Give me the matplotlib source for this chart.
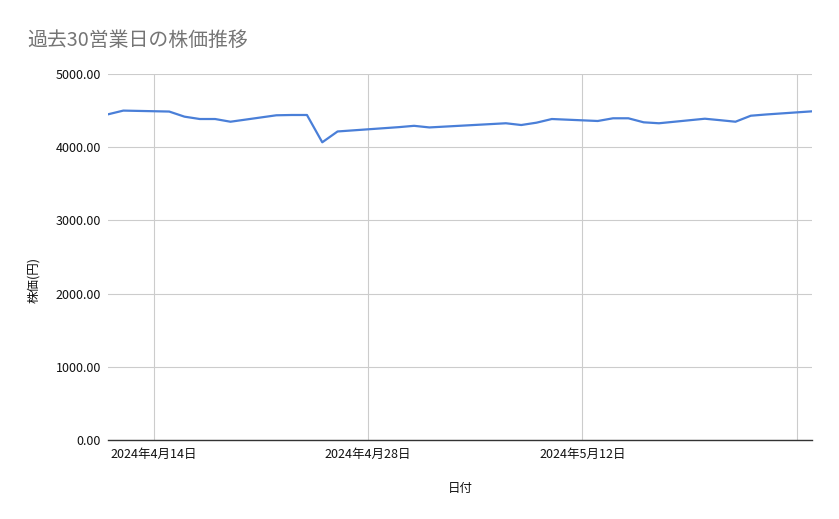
import numpy as np
import pandas as pd
import matplotlib
matplotlib.use("Agg")
import matplotlib.pyplot as plt

plt.rcParams['font.family'] = ['Noto Sans CJK JP', 'DejaVu Sans']

# 過去30営業日 (祝日は除く)
dates = pd.to_datetime([
    "2024-04-11", "2024-04-12", "2024-04-15", "2024-04-16", "2024-04-17",
    "2024-04-18", "2024-04-19", "2024-04-22", "2024-04-23", "2024-04-24",
    "2024-04-25", "2024-04-26", "2024-04-30", "2024-05-01", "2024-05-02",
    "2024-05-07", "2024-05-08", "2024-05-09", "2024-05-10", "2024-05-13",
    "2024-05-14", "2024-05-15", "2024-05-16", "2024-05-17", "2024-05-20",
    "2024-05-21", "2024-05-22", "2024-05-23", "2024-05-24", "2024-05-27",
])
prices = [
    4449, 4500, 4487, 4417, 4385,
    4385, 4348, 4436, 4440, 4440,
    4067, 4215, 4274, 4292, 4270,
    4327, 4303, 4335, 4385, 4358,
    4395, 4395, 4340, 4327, 4389,
    4369, 4348, 4430, 4447, 4490,
]

tick_dates = pd.to_datetime(["2024-04-14", "2024-04-28", "2024-05-12", "2024-05-26"])
tick_labels = ["2024年4月14日", "2024年4月28日", "2024年5月12日", ""]
y_ticks = [0, 1000, 2000, 3000, 4000, 5000]

fig = plt.figure(figsize=(8.39, 5.19), dpi=100)
ax = fig.add_axes([108/839, 1 - 440/519, (812 - 108)/839, (440 - 74)/519])

ax.plot(dates, prices, color='#4a7fd8', lw=1.6, solid_joinstyle='round')

ax.set_xlim(dates[0], dates[-1])
ax.set_ylim(0, 5000)
ax.set_xticks(tick_dates)
ax.set_xticklabels(tick_labels)
ax.set_yticks(y_ticks)
ax.set_yticklabels([f"{v:.2f}" for v in y_ticks])

ax.grid(True, color='#cccccc', lw=0.8)
ax.set_axisbelow(True)
for s in ['top', 'right', 'left']:
    ax.spines[s].set_visible(False)
ax.spines['bottom'].set_color('#333333')
ax.spines['bottom'].set_linewidth(1.0)
ax.tick_params(axis='both', length=0, labelsize=9, colors='#111111')
ax.tick_params(axis='x', pad=6)
ax.tick_params(axis='y', pad=5)

ax.set_xlabel("日付", fontsize=9, color='#111111', labelpad=15)
ax.set_ylabel("株価(円)", fontsize=9, color='#111111')
ax.yaxis.set_label_coords((40 - 108)/704, (440 - 280)/366)

fig.text(27/839, 1 - 40/519, "過去30営業日の株価推移", fontsize=14.3,
         color='#757575', va='center', ha='left')

fig.savefig("out.png", dpi=100)
